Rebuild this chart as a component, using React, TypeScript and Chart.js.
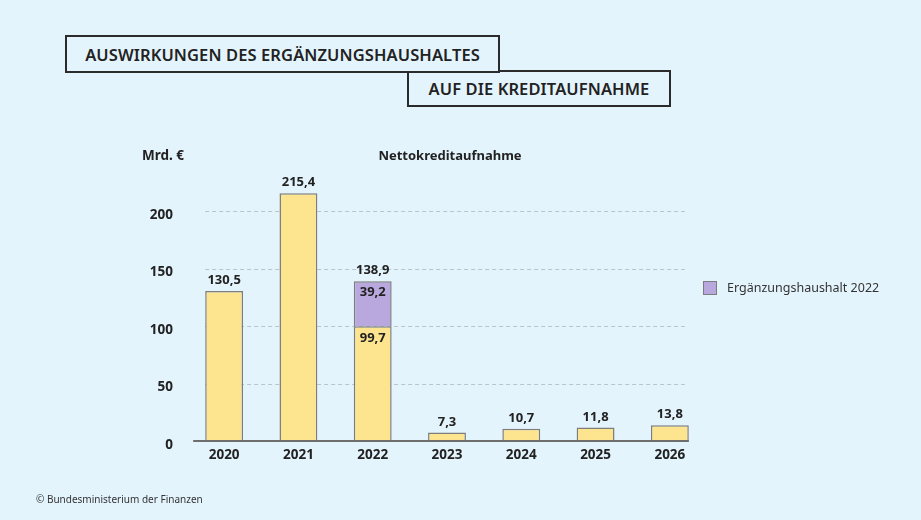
import React, { useEffect, useRef } from "react";
import { Chart, registerables } from "chart.js";

Chart.register(...registerables);

const years = ["2020", "2021", "2022", "2023", "2024", "2025", "2026"];
const baseValues = [130.5, 215.4, 99.7, 7.3, 10.7, 11.8, 13.8];
const supplementValues = [0, 0, 39.2, 0, 0, 0, 0];
const yTicks = [0, 50, 100, 150, 200];

const BG = "#e4f4fd";
const YELLOW = "#fde58f";
const PURPLE = "#b9a8de";
const BORDER = "#7d7d7d";
const TEXT = "#222222";
const FONT = "'Noto Sans', 'Open Sans', sans-serif";

const fmt = (v: number) => v.toFixed(1).replace(".", ",");

export default function App() {
  const ref = useRef<HTMLCanvasElement | null>(null);

  useEffect(() => {
    if (!ref.current) return;
    const gridPlugin = {
      id: "customGrid",
      beforeDatasetsDraw(chart: any) {
        const { ctx, scales } = chart;
        const x = scales.x;
        const y = scales.y;
        const left = x.getPixelForValue(0) - 19;
        const right = x.getPixelForValue(years.length - 1) + 15;
        ctx.save();
        ctx.strokeStyle = "#b9c4cb";
        ctx.lineWidth = 1;
        ctx.setLineDash([4, 3]);
        yTicks.forEach((t) => {
          if (t === 0) return;
          const py = Math.round(y.getPixelForValue(t)) + 0.5;
          ctx.beginPath();
          ctx.moveTo(left, py);
          ctx.lineTo(right, py);
          ctx.stroke();
        });
        ctx.restore();
      },
      afterDatasetsDraw(chart: any) {
        const { ctx, scales } = chart;
        const x = scales.x;
        const y = scales.y;
        const left = x.getPixelForValue(0) - 31;
        const right = x.getPixelForValue(years.length - 1) + 19;
        const py = y.getPixelForValue(0);
        ctx.save();
        ctx.strokeStyle = "#6e6e6e";
        ctx.lineWidth = 2;
        ctx.beginPath();
        ctx.moveTo(left, py);
        ctx.lineTo(right, py);
        ctx.stroke();

        ctx.fillStyle = TEXT;
        ctx.font = `bold 13px ${FONT}`;
        ctx.textAlign = "center";
        years.forEach((_, i) => {
          const total = baseValues[i] + supplementValues[i];
          const px = x.getPixelForValue(i);
          ctx.textBaseline = "bottom";
          ctx.fillText(fmt(total), px, y.getPixelForValue(total) - 4);
          if (supplementValues[i] > 0) {
            ctx.textBaseline = "top";
            ctx.fillText(fmt(supplementValues[i]), px, y.getPixelForValue(total) + 5);
            ctx.fillText(fmt(baseValues[i]), px, y.getPixelForValue(baseValues[i]) + 5);
          }
        });
        ctx.restore();
      },
    };

    const chart = new Chart(ref.current, {
      type: "bar",
      data: {
        labels: years,
        datasets: [
          {
            label: "Nettokreditaufnahme",
            data: baseValues,
            backgroundColor: YELLOW,
            borderColor: BORDER,
            borderWidth: 1.5,
            barPercentage: 0.51,
            categoryPercentage: 1,
          },
          {
            label: "Ergänzungshaushalt 2022",
            data: supplementValues,
            backgroundColor: PURPLE,
            borderColor: BORDER,
            borderWidth: 1.5,
            barPercentage: 0.51,
            categoryPercentage: 1,
          },
        ],
      },
      options: {
        animation: false,
        responsive: false,
        maintainAspectRatio: false,
        layout: { padding: { left: 117, right: 214, top: 188, bottom: 49 } },
        plugins: {
          legend: { display: false },
          tooltip: { enabled: false },
          title: { display: false },
        },
        scales: {
          x: {
            stacked: true,
            grid: { display: false, drawTicks: false },
            border: { display: false },
            ticks: {
              color: TEXT,
              font: { family: FONT, size: 13.5, weight: "bold" },
              padding: 6,
            },
            afterFit: (s: any) => {
              s.height = 30;
            },
          },
          y: {
            stacked: true,
            min: 0,
            max: 220,
            grid: { display: false, drawTicks: false },
            border: { display: false },
            afterBuildTicks: (s: any) => {
              s.ticks = yTicks.map((v) => ({ value: v }));
            },
            ticks: {
              color: TEXT,
              font: { family: FONT, size: 13.5, weight: "bold" },
              padding: 14,
              labelOffset: 4,
            },
            afterFit: (s: any) => {
              s.width = 70;
            },
          },
        },
      },
      plugins: [gridPlugin],
    } as any);
    return () => chart.destroy();
  }, []);

  const box: React.CSSProperties = {
    position: "absolute",
    border: "2.5px solid #2b2b2b",
    boxSizing: "border-box",
    fontFamily: FONT,
    fontWeight: 600,
    fontSize: 16.5,
    color: TEXT,
    display: "flex",
    alignItems: "center",
    justifyContent: "center",
    background: BG,
    letterSpacing: 0.1,
  };

  return (
    <div
      style={{
        position: "absolute",
        left: 0,
        top: 0,
        width: 921,
        height: 520,
        background: BG,
        overflow: "hidden",
      }}
    >
      <canvas ref={ref} width={921} height={520} style={{ position: "absolute", left: 0, top: 0 }} />
      <div style={{ ...box, left: 407, top: 70, width: 264, height: 37 }}>AUF DIE KREDITAUFNAHME</div>
      <div style={{ ...box, left: 65, top: 35, width: 435, height: 38 }}>AUSWIRKUNGEN DES ERGÄNZUNGSHAUSHALTES</div>
      <div
        style={{
          position: "absolute",
          left: 142,
          top: 146,
          fontFamily: FONT,
          fontWeight: 700,
          fontSize: 13.5,
          color: TEXT,
        }}
      >
        Mrd. €
      </div>
      <div
        style={{
          position: "absolute",
          left: 370,
          top: 146,
          width: 160,
          textAlign: "center",
          fontFamily: FONT,
          fontWeight: 700,
          fontSize: 13,
          color: TEXT,
        }}
      >
        Nettokreditaufnahme
      </div>
      <div
        style={{
          position: "absolute",
          left: 703,
          top: 279,
          display: "flex",
          alignItems: "center",
          fontFamily: FONT,
          fontSize: 12.5,
          color: "#333",
        }}
      >
        <span
          style={{
            display: "inline-block",
            width: 14,
            height: 14,
            background: PURPLE,
            border: "1.5px solid " + BORDER,
            boxSizing: "border-box",
            marginRight: 10,
          }}
        />
        Ergänzungshaushalt 2022
      </div>
      <div
        style={{
          position: "absolute",
          left: 36,
          top: 492,
          fontFamily: FONT,
          fontSize: 10,
          color: "#333",
        }}
      >
        © Bundesministerium der Finanzen
      </div>
    </div>
  );
}
